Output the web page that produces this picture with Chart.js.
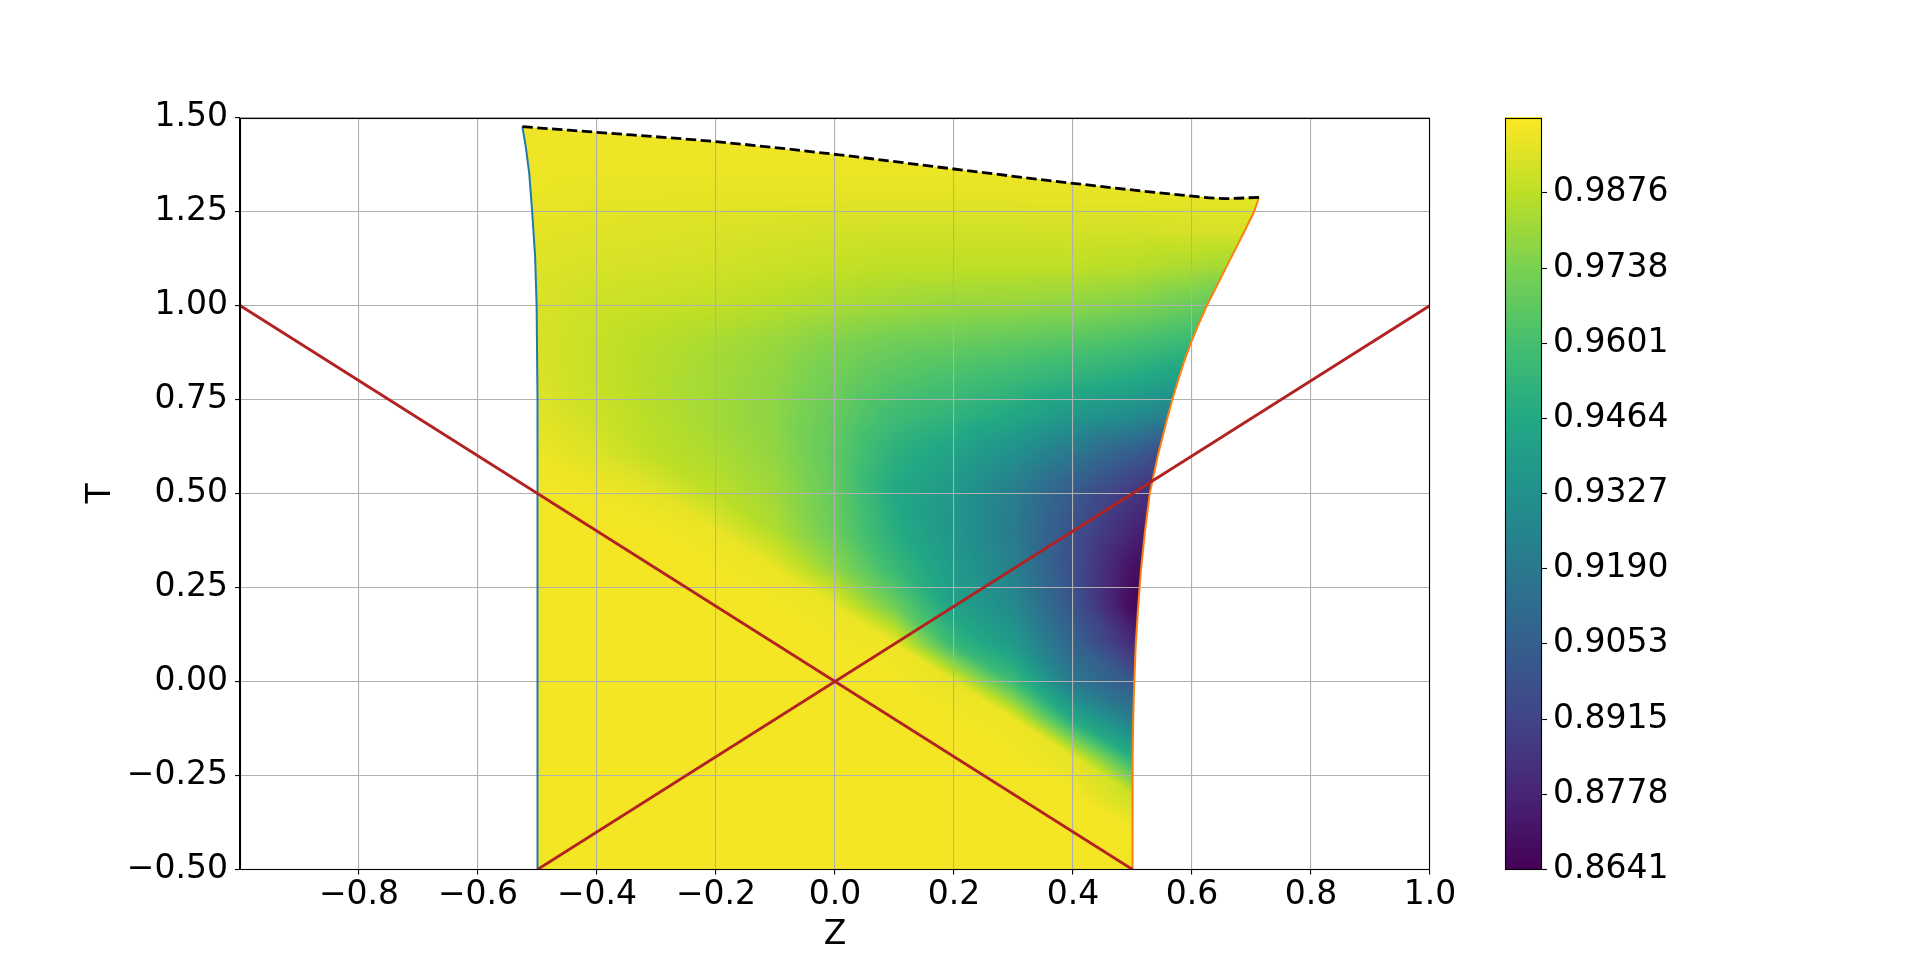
<!DOCTYPE html>
<html>
<head>
<meta charset="utf-8">
<script src="https://cdn.jsdelivr.net/npm/chart.js@4.4.0/dist/chart.umd.min.js"></script>
<style>
  html, body { margin: 0; padding: 0; background: #fff; }
  #wrap { position: relative; width: 1920px; height: 977px; }
  #wrap canvas { position: absolute; left: 0; top: 0; }
</style>
</head>
<body>
<div id="wrap">
  <canvas id="fieldChart" width="1920" height="977"></canvas>
  <canvas id="barChart" width="1920" height="977"></canvas>
</div>
<script>
// ---- data ----
var zTicks = [-0.8, -0.6, -0.4, -0.2, 0.0, 0.2, 0.4, 0.6, 0.8, 1.0];
var tTicks = [-0.5, -0.25, 0.0, 0.25, 0.5, 0.75, 1.0, 1.25, 1.5];
var cbTicks = [0.8641, 0.8778, 0.8915, 0.9053, 0.9190, 0.9327, 0.9464, 0.9601, 0.9738, 0.9876];
var cbMin = 0.8641, cbMax = 1.0013;

// domain boundaries (Z, T)
var leftEdge = [[-0.5, -0.5], [-0.5, 0.75], [-0.5015, 1.0], [-0.504, 1.13], [-0.509, 1.25], [-0.5138, 1.35], [-0.5195, 1.42], [-0.5254, 1.4756]];
var topEdge = [[-0.5254, 1.4756], [-0.4, 1.4606], [-0.2, 1.4357], [0.0, 1.402], [0.2, 1.363], [0.4, 1.325], [0.6, 1.291], [0.655, 1.2843], [0.7125, 1.2878]];
var rightEdge = [[0.7125, 1.2878], [0.7045, 1.25], [0.689, 1.2], [0.673, 1.15], [0.657, 1.1], [0.641, 1.05], [0.625, 1.0], [0.611, 0.95],
  [0.598, 0.9], [0.5865, 0.85], [0.5765, 0.8], [0.567, 0.75], [0.5585, 0.7], [0.5425, 0.6], [0.529, 0.5], [0.521, 0.4],
  [0.5145, 0.3], [0.5095, 0.2], [0.5055, 0.1], [0.503, 0.0], [0.5012, -0.1], [0.5003, -0.2], [0.5, -0.5]];
var diagDown = [[-1.0, 1.0], [0.5, -0.5]];
var diagUp = [[-0.5, -0.5], [1.0, 1.0]];

// field samples: columns = zGrid, rows = tGrid
var zGrid = [-0.6, -0.5, -0.4, -0.3, -0.2, -0.1, 0.0, 0.1, 0.2, 0.3, 0.4, 0.5, 0.6, 0.7, 0.8];
var tGrid = [-0.5, -0.4, -0.3, -0.2, -0.1, 0.0, 0.1, 0.2, 0.3, 0.4, 0.5, 0.6, 0.7, 0.8, 0.9, 1.0, 1.1, 1.2, 1.3, 1.4, 1.5];
var field = [
  [0.9993, 0.9993, 0.9993, 0.9993, 0.9993, 0.9993, 0.9993, 0.9993, 0.9993, 0.9993, 0.9993, 0.9993, 0.9993, 0.9993, 0.9993],
  [0.9993, 0.9993, 0.9993, 0.9993, 0.9993, 0.9993, 0.9993, 0.9993, 0.9993, 0.9993, 0.9993, 0.9993, 0.9993, 0.9993, 0.9993],
  [0.9993, 0.9993, 0.9993, 0.9993, 0.9993, 0.9993, 0.9993, 0.9993, 0.9993, 0.9993, 0.9993, 0.9903, 0.9903, 0.9903, 0.9903],
  [0.9993, 0.9993, 0.9993, 0.9993, 0.9993, 0.9993, 0.9993, 0.9993, 0.9993, 0.9993, 0.9958, 0.9492, 0.9396, 0.9396, 0.9396],
  [0.9993, 0.9993, 0.9993, 0.9993, 0.9993, 0.9993, 0.9993, 0.9993, 0.9993, 0.9979, 0.9464, 0.9217, 0.9053, 0.9053, 0.9053],
  [0.9993, 0.9993, 0.9993, 0.9993, 0.9993, 0.9993, 0.9993, 0.9993, 0.9965, 0.9574, 0.9190, 0.9012, 0.8847, 0.8847, 0.8847],
  [0.9993, 0.9993, 0.9993, 0.9993, 0.9993, 0.9993, 0.9993, 0.9979, 0.9547, 0.9382, 0.9080, 0.8806, 0.8641, 0.8641, 0.8641],
  [0.9993, 0.9993, 0.9993, 0.9993, 0.9993, 0.9993, 0.9972, 0.9711, 0.9423, 0.9286, 0.8998, 0.8668, 0.8641, 0.8641, 0.8641],
  [0.9993, 0.9993, 0.9993, 0.9993, 0.9993, 0.9972, 0.9780, 0.9560, 0.9382, 0.9231, 0.8970, 0.8696, 0.8641, 0.8641, 0.8641],
  [0.9993, 0.9993, 0.9993, 0.9993, 0.9972, 0.9849, 0.9698, 0.9492, 0.9355, 0.9204, 0.8984, 0.8778, 0.8641, 0.8641, 0.8641],
  [0.9993, 0.9993, 0.9986, 0.9958, 0.9876, 0.9814, 0.9684, 0.9464, 0.9368, 0.9217, 0.9025, 0.8861, 0.8710, 0.8710, 0.8710],
  [0.9986, 0.9979, 0.9945, 0.9876, 0.9842, 0.9787, 0.9670, 0.9506, 0.9423, 0.9313, 0.9176, 0.9025, 0.8847, 0.8847, 0.8847],
  [0.9965, 0.9958, 0.9910, 0.9862, 0.9821, 0.9773, 0.9684, 0.9574, 0.9519, 0.9451, 0.9355, 0.9286, 0.9190, 0.9190, 0.9190],
  [0.9945, 0.9938, 0.9897, 0.9855, 0.9821, 0.9780, 0.9711, 0.9643, 0.9602, 0.9560, 0.9512, 0.9464, 0.9396, 0.9327, 0.9327],
  [0.9938, 0.9931, 0.9897, 0.9862, 0.9835, 0.9800, 0.9752, 0.9711, 0.9691, 0.9670, 0.9643, 0.9602, 0.9553, 0.9492, 0.9492],
  [0.9938, 0.9938, 0.9910, 0.9897, 0.9883, 0.9862, 0.9835, 0.9814, 0.9800, 0.9794, 0.9780, 0.9752, 0.9698, 0.9629, 0.9629],
  [0.9945, 0.9945, 0.9931, 0.9924, 0.9917, 0.9903, 0.9890, 0.9876, 0.9876, 0.9876, 0.9876, 0.9862, 0.9835, 0.9807, 0.9807],
  [0.9958, 0.9958, 0.9951, 0.9945, 0.9938, 0.9931, 0.9924, 0.9917, 0.9917, 0.9917, 0.9924, 0.9924, 0.9931, 0.9931, 0.9931],
  [0.9972, 0.9972, 0.9965, 0.9965, 0.9965, 0.9965, 0.9965, 0.9965, 0.9965, 0.9965, 0.9965, 0.9965, 0.9965, 0.9965, 0.9965],
  [0.9979, 0.9979, 0.9979, 0.9979, 0.9979, 0.9979, 0.9979, 0.9979, 0.9979, 0.9979, 0.9979, 0.9979, 0.9979, 0.9979, 0.9979],
  [0.9979, 0.9979, 0.9979, 0.9979, 0.9979, 0.9979, 0.9979, 0.9979, 0.9979, 0.9979, 0.9979, 0.9979, 0.9979, 0.9979, 0.9979]
];

// ---- helpers ----
var viridisStops = [
  [68, 1, 84], [72, 36, 117], [65, 68, 135], [53, 95, 141], [42, 120, 142], [33, 145, 140],
  [34, 168, 132], [68, 191, 112], [122, 209, 81], [189, 223, 38], [253, 231, 37]
];

function viridis(f) {
  f = Math.max(0, Math.min(1, f));
  var s = f * (viridisStops.length - 1);
  var i = Math.min(Math.floor(s), viridisStops.length - 2);
  var k = s - i, a = viridisStops[i], b = viridisStops[i + 1];
  return [a[0] + (b[0] - a[0]) * k, a[1] + (b[1] - a[1]) * k, a[2] + (b[2] - a[2]) * k];
}

function gridPos(arr, v) {
  var step = arr[1] - arr[0];
  var s = (v - arr[0]) / step;
  s = Math.max(0, Math.min(arr.length - 1.0001, s));
  var i = Math.floor(s);
  return [i, s - i];
}

// linear shading on triangles split along the cell anti-diagonal
function sampleField(z, t) {
  var pz = gridPos(zGrid, z), pt = gridPos(tGrid, t);
  var i = pz[0], a = pz[1], j = pt[0], b = pt[1];
  var v00 = field[j][i], v01 = field[j][i + 1], v10 = field[j + 1][i], v11 = field[j + 1][i + 1];
  if (a + b <= 1) return v00 + a * (v01 - v00) + b * (v10 - v00);
  return v11 + (1 - a) * (v10 - v11) + (1 - b) * (v01 - v11);
}

function toXY(pairs) {
  return pairs.map(function(p) { return {x: p[0], y: p[1]}; });
}

function minusSign(s) {
  return s.replace('-', '\u2212');
}

var outline = leftEdge.concat(topEdge.slice(1), rightEdge.slice(1));

Chart.defaults.font.family = 'DejaVu Sans';
Chart.defaults.color = '#000';

// heat map under the grid, clipped to the domain
var heatPlugin = {
  id: 'heat',
  beforeDraw: function(chart) {
    var ctx = chart.ctx, area = chart.chartArea;
    var xs = chart.scales.x, ys = chart.scales.y;
    var x0 = Math.floor(area.left), y0 = Math.floor(area.top);
    var w = Math.ceil(area.right) - x0, h = Math.ceil(area.bottom) - y0;
    var off = document.createElement('canvas');
    off.width = w; off.height = h;
    var octx = off.getContext('2d');
    var img = octx.createImageData(w, h);
    var zs = [];
    for (var px = 0; px < w; px++) zs.push(xs.getValueForPixel(x0 + px + 0.5));
    for (var py = 0; py < h; py++) {
      var t = ys.getValueForPixel(y0 + py + 0.5);
      for (var qx = 0; qx < w; qx++) {
        var v = sampleField(zs[qx], t);
        var c = viridis((v - cbMin) / (cbMax - cbMin));
        var k = (py * w + qx) * 4;
        img.data[k] = c[0]; img.data[k + 1] = c[1]; img.data[k + 2] = c[2]; img.data[k + 3] = 255;
      }
    }
    octx.putImageData(img, 0, 0);
    ctx.save();
    ctx.beginPath();
    outline.forEach(function(p, n) {
      var X = xs.getPixelForValue(p[0]), Y = ys.getPixelForValue(p[1]);
      if (n === 0) ctx.moveTo(X, Y); else ctx.lineTo(X, Y);
    });
    ctx.closePath();
    ctx.clip();
    ctx.drawImage(off, x0, y0);
    ctx.restore();
  }
};

// full black frame around the axes
var framePlugin = {
  id: 'frame',
  afterDraw: function(chart) {
    var a = chart.chartArea, ctx = chart.ctx;
    ctx.save();
    ctx.strokeStyle = '#000';
    ctx.lineWidth = 1.1;
    ctx.strokeRect(Math.round(a.left) + 0.5, Math.round(a.top) + 0.5, Math.round(a.right - a.left) - 1, Math.round(a.bottom - a.top) - 1);
    ctx.restore();
  }
};

var gridOpts = {color: '#b0b0b0', lineWidth: 1.1, tickColor: '#000', tickLength: 5, tickWidth: 1.1};

new Chart(document.getElementById('fieldChart'), {
  type: 'scatter',
  data: {
    datasets: [
      {data: toXY(diagDown), showLine: true, borderColor: '#b22222', borderWidth: 2.8, pointRadius: 0, fill: false},
      {data: toXY(diagUp), showLine: true, borderColor: '#b22222', borderWidth: 2.8, pointRadius: 0, fill: false},
      {data: toXY(topEdge), showLine: true, borderColor: '#000', borderWidth: 2.8, borderDash: [10.4, 4.5], pointRadius: 0, fill: false, cubicInterpolationMode: 'monotone'},
      {data: toXY(leftEdge), showLine: true, borderColor: '#1f77b4', borderWidth: 2, pointRadius: 0, fill: false},
      {data: toXY(rightEdge), showLine: true, borderColor: '#ff7f0e', borderWidth: 2, pointRadius: 0, fill: false}
    ]
  },
  options: {
    responsive: false,
    animation: false,
    layout: {padding: {left: 0, top: 117.5, right: 490, bottom: 0}},
    plugins: {legend: {display: false}, tooltip: {enabled: false}},
    scales: {
      x: {
        type: 'linear', min: -1, max: 1,
        afterBuildTicks: function(s) { s.ticks = zTicks.map(function(v) { return {value: v}; }); },
        afterFit: function(s) { s.height = 107.5; },
        grid: gridOpts,
        border: {color: '#000', width: 1.1},
        ticks: {font: {size: 33}, padding: 1, maxRotation: 0, autoSkip: false,
          callback: function(v) { return minusSign(v.toFixed(1)); }},
        title: {display: true, text: 'Z', font: {size: 33}, padding: {top: 0, bottom: 22}}
      },
      y: {
        type: 'linear', min: -0.5, max: 1.5,
        afterBuildTicks: function(s) { s.ticks = tTicks.map(function(v) { return {value: v}; }); },
        afterFit: function(s) { s.width = 240; },
        grid: gridOpts,
        border: {color: '#000', width: 1.1},
        ticks: {font: {size: 33}, padding: 7, autoSkip: false,
          callback: function(v) { return minusSign(v.toFixed(2)); }},
        title: {display: true, text: 'T', font: {size: 33}, padding: {top: 82, bottom: 0}}
      }
    }
  },
  plugins: [heatPlugin, framePlugin]
});

// colour bar drawn on its own value scale
var barPlugin = {
  id: 'colorbar',
  beforeDraw: function(chart) {
    var ctx = chart.ctx, a = chart.chartArea, ys = chart.scales.y;
    for (var py = Math.floor(a.top); py < Math.ceil(a.bottom); py++) {
      var v = ys.getValueForPixel(py + 0.5);
      var c = viridis((v - cbMin) / (cbMax - cbMin));
      ctx.fillStyle = 'rgb(' + Math.round(c[0]) + ',' + Math.round(c[1]) + ',' + Math.round(c[2]) + ')';
      ctx.fillRect(a.left, py, a.right - a.left, 1);
    }
  },
  afterDraw: function(chart) {
    var a = chart.chartArea, ctx = chart.ctx;
    ctx.save();
    ctx.strokeStyle = '#000';
    ctx.lineWidth = 1.1;
    ctx.strokeRect(Math.round(a.left) + 0.5, Math.round(a.top) + 0.5, Math.round(a.right - a.left) - 1, Math.round(a.bottom - a.top) - 1);
    ctx.restore();
  }
};

new Chart(document.getElementById('barChart'), {
  type: 'scatter',
  data: {datasets: []},
  options: {
    responsive: false,
    animation: false,
    layout: {padding: {left: 1505, top: 117.5, right: 178, bottom: 107.5}},
    plugins: {legend: {display: false}, tooltip: {enabled: false}},
    scales: {
      x: {display: false, min: 0, max: 1},
      y: {
        position: 'right', min: cbMin, max: cbMax,
        afterBuildTicks: function(s) { s.ticks = cbTicks.map(function(v) { return {value: v}; }); },
        afterFit: function(s) { s.width = 200; },
        grid: {drawOnChartArea: false, drawTicks: true, tickLength: 5, tickColor: '#000', tickWidth: 1.1},
        border: {display: false},
        ticks: {font: {size: 33}, padding: 6, autoSkip: false,
          callback: function(v) { return v.toFixed(4); }}
      }
    }
  },
  plugins: [barPlugin]
});
</script>
</body>
</html>
